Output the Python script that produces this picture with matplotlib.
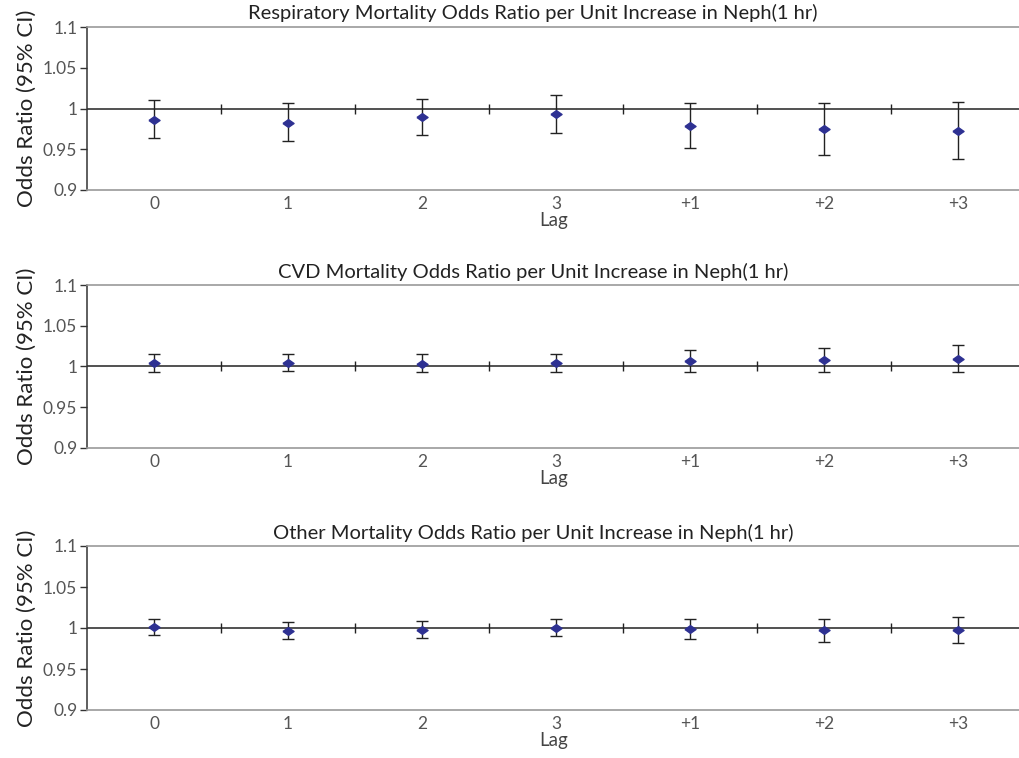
import matplotlib
matplotlib.use("Agg")
import matplotlib.pyplot as plt

# Lag categories and odds ratios (point estimate, lower/upper 95% CI)
lags = ["0", "1", "2", "3", "+1", "+2", "+3"]

titles = [
    "Respiratory Mortality Odds Ratio per Unit Increase in Neph(1 hr)",
    "CVD Mortality Odds Ratio per Unit Increase in Neph(1 hr)",
    "Other Mortality Odds Ratio per Unit Increase in Neph(1 hr)",
]

resp_or = [0.986, 0.982, 0.989, 0.993, 0.978, 0.975, 0.973]
resp_lo = [0.964, 0.960, 0.967, 0.970, 0.951, 0.943, 0.938]
resp_hi = [1.010, 1.007, 1.012, 1.016, 1.007, 1.007, 1.008]

cvd_or = [1.004, 1.004, 1.003, 1.004, 1.007, 1.008, 1.009]
cvd_lo = [0.993, 0.995, 0.993, 0.993, 0.993, 0.993, 0.993]
cvd_hi = [1.015, 1.015, 1.015, 1.015, 1.020, 1.023, 1.026]

oth_or = [1.001, 0.996, 0.998, 0.9995, 0.999, 0.998, 0.998]
oth_lo = [0.991, 0.986, 0.988, 0.990, 0.986, 0.983, 0.982]
oth_hi = [1.011, 1.007, 1.008, 1.011, 1.011, 1.011, 1.013]

series = [(resp_or, resp_lo, resp_hi), (cvd_or, cvd_lo, cvd_hi), (oth_or, oth_lo, oth_hi)]
y_ticks = [0.9, 0.95, 1.0, 1.05, 1.1]
y_labels = ["0.9", "0.95", "1", "1.05", "1.1"]

plt.rcParams["font.family"] = ["Lato", "DejaVu Sans"]

W, H = 1020, 758
fig = plt.figure(figsize=(W / 100, H / 100), dpi=100)

# axes placement in pixels: (top, bottom)
panels = [(27, 190), (285, 448), (546, 710)]
title_y = [13, 272, 533]
left_px = 87

x = list(range(len(lags)))
bounds = [i + 0.5 for i in x[:-1]]

# flat diamond like the Excel marker
diamond = [(-1, 0), (0, 0.7), (1, 0), (0, -0.7), (-1, 0)]

for (top, bot), ty, title, (orv, lo, hi) in zip(panels, title_y, titles, series):
    ax = fig.add_axes([left_px / W, 1 - bot / H, 1 - left_px / W, (bot - top) / H])
    ax.set_xlim(-0.5, 6.46)
    ax.set_ylim(0.9, 1.1)

    # reference line at OR = 1 with category boundary ticks
    ax.axhline(1.0, color="#222222", lw=1.1, zorder=1)
    ax.plot(bounds, [1.0] * len(bounds), ls="none", marker="|", ms=7,
            mew=1.0, color="#222222", zorder=1)

    yerr = [[o - l for o, l in zip(orv, lo)], [h - o for o, h in zip(orv, hi)]]
    ax.errorbar(x, orv, yerr=yerr, fmt="none", ecolor="#222222", elinewidth=1.0,
                capsize=4, capthick=1.0, zorder=2)
    ax.plot(x, orv, ls="none", marker=diamond, ms=8, color="#2E3192", zorder=3)

    ax.set_yticks(y_ticks, y_labels)
    ax.set_xticks(x, lags)
    ax.tick_params(axis="x", length=0, pad=4, labelsize=12.5, labelcolor="#555555")
    ax.tick_params(axis="y", direction="out", length=5, width=1, color="#333333",
                   pad=2, labelsize=12.5, labelcolor="#555555")

    for side in ("top", "bottom"):
        ax.spines[side].set_color("#999999")
        ax.spines[side].set_linewidth(1.2)
    ax.spines["left"].set_color("#333333")
    ax.spines["left"].set_linewidth(1.1)
    ax.spines["right"].set_visible(False)

    ax.set_ylabel("Odds Ratio (95% CI)", fontsize=16, color="#222222", labelpad=4)
    ax.set_xlabel("Lag", fontsize=13.5, color="#444444", labelpad=0)

    fig.text(533 / W, 1 - ty / H, title, ha="center", va="center",
             fontsize=14.5, color="#222222")

fig.savefig("out.png", dpi=100)
